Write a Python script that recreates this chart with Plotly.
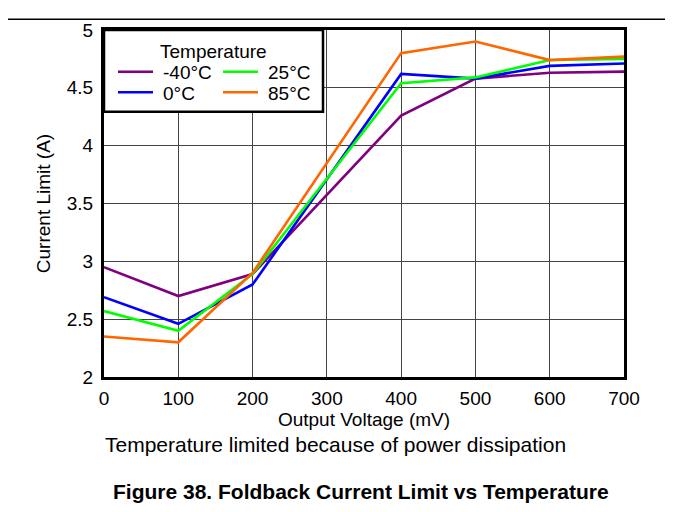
import plotly.graph_objects as go

# output voltage (mV)
voltage = [0, 100, 200, 400, 500, 600, 700]

# current limit (A) per temperature
temp_labels = ['-40°C', '0°C', '25°C', '85°C']
i_m40 = [2.95, 2.70, 2.89, 4.26, 4.58, 4.63, 4.64]
i_0 = [2.69, 2.46, 2.80, 4.62, 4.58, 4.69, 4.71]
i_25 = [2.57, 2.40, 2.89, 4.54, 4.59, 4.74, 4.75]
i_85 = [2.35, 2.30, 2.90, 4.80, 4.90, 4.74, 4.77]

x_ticks = [0, 100, 200, 300, 400, 500, 600, 700]
y_ticks = [2, 2.5, 3, 3.5, 4, 4.5, 5]

colors = {
    '-40°C': '#800080',
    '0°C': '#0000FF',
    '25°C': '#00FF00',
    '85°C': '#FF6600',
}

# page has an 8px body margin, so the figure is a bit smaller than the window
OFF = 8
W, H = 673 - OFF, 512 - OFF
L, R, T, B = 104, 624, 20, 377   # plot area in page pixels


def px(x):
    return (x - L) / (R - L)


def py(y):
    return (B - y) / (B - T)


FONT = 'Liberation Sans, Arial, sans-serif'

fig = go.Figure()

series = [i_m40, i_0, i_25, i_85]
for name, vals in zip(temp_labels, series):
    fig.add_trace(go.Scatter(
        x=voltage, y=vals, mode='lines', name=name,
        line=dict(color=colors[name], width=2.6),
        showlegend=False,
    ))

shapes = []
annotations = []

# legend box drawn by hand (two columns like the datasheet figure)
shapes.append(dict(type='rect', xref='paper', yref='paper',
                   x0=px(104), x1=px(323), y0=py(104), y1=py(T),
                   fillcolor='white', line=dict(color='black', width=2.5),
                   layer='above'))
annotations.append(dict(text='Temperature', xref='paper', yref='paper',
                        x=px(213), y=py(42), showarrow=False,
                        xanchor='center', yanchor='middle',
                        font=dict(size=19, color='black', family=FONT)))
legend_pos = {
    '-40°C': (118, 63),
    '25°C': (223, 63),
    '0°C': (118, 84),
    '85°C': (223, 84),
}
for name, (lx, ly) in legend_pos.items():
    shapes.append(dict(type='line', xref='paper', yref='paper',
                       x0=px(lx), x1=px(lx + 35), y0=py(ly), y1=py(ly),
                       line=dict(color=colors[name], width=2.6), layer='above'))
    annotations.append(dict(text=name, xref='paper', yref='paper',
                            x=px(lx + 43), y=py(ly + 1), showarrow=False,
                            xanchor='left', yanchor='middle',
                            font=dict(size=19, color='black', family=FONT)))

# outer page frame (top and right edges)
shapes.append(dict(type='line', xref='paper', yref='paper',
                   x0=px(OFF), x1=px(667), y0=py(OFF + 1), y1=py(OFF + 1),
                   line=dict(color='black', width=1.5)))
shapes.append(dict(type='line', xref='paper', yref='paper',
                   x0=px(667), x1=px(667), y0=py(OFF + 1), y1=py(515),
                   line=dict(color='black', width=1.5)))

annotations.append(dict(text='Temperature limited because of power dissipation',
                        xref='paper', yref='paper', x=px(103), y=py(446),
                        showarrow=False, xanchor='left', yanchor='middle',
                        font=dict(size=21, color='black', family=FONT)))
annotations.append(dict(text='<b>Figure 38. Foldback Current Limit vs Temperature</b>',
                        xref='paper', yref='paper', x=px(361), y=py(495),
                        showarrow=False, xanchor='center', yanchor='middle',
                        font=dict(size=21, color='black', family=FONT)))

fig.update_layout(
    width=W, height=H,
    margin=dict(l=L - OFF, r=W - (R - OFF), t=T - OFF, b=H - (B - OFF), pad=0),
    paper_bgcolor='white', plot_bgcolor='white',
    font=dict(family=FONT, size=19, color='black'),
    shapes=shapes, annotations=annotations,
    showlegend=False,
    xaxis=dict(
        range=[0, 700], tickvals=x_ticks, ticks='', ticklen=0,
        showgrid=True, gridcolor='#444444', gridwidth=1,
        showline=True, linecolor='black', linewidth=3, mirror=True,
        zeroline=False, ticklabelstandoff=2,
        title=dict(text='Output Voltage (mV)', standoff=0,
                   font=dict(size=19)),
        tickfont=dict(size=19),
    ),
    yaxis=dict(
        range=[2, 5], tickvals=y_ticks, ticks='', ticklen=0,
        showgrid=True, gridcolor='#444444', gridwidth=1,
        showline=True, linecolor='black', linewidth=3, mirror=True,
        zeroline=False, ticklabelstandoff=4,
        title=dict(text='Current Limit (A)', standoff=12,
                   font=dict(size=19)),
        tickfont=dict(size=19),
    ),
)

fig.write_html('out.html')
